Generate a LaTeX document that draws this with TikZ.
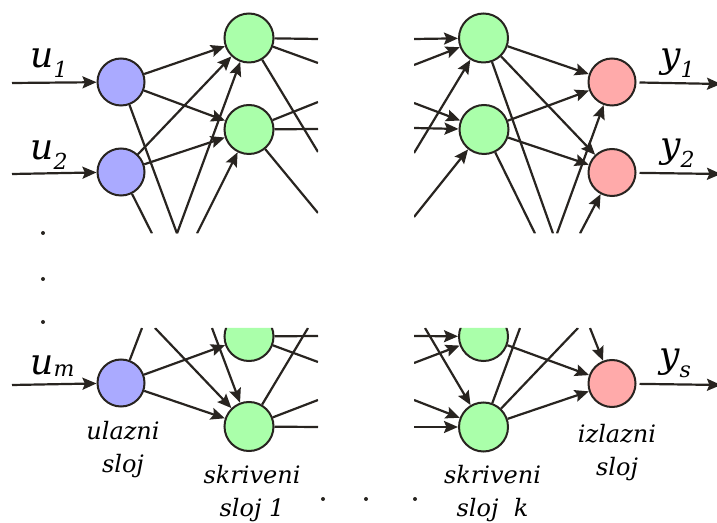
\documentclass[tikz,border=0pt]{standalone}
\usepackage{fontspec}
\setmainfont{DejaVu Serif}
\usepackage{tikz}
\usetikzlibrary{arrows.meta}
\usepackage{xcolor}
\definecolor{nnblue}{RGB}{170,170,255}
\definecolor{nngreen}{RGB}{170,255,170}
\definecolor{nnred}{RGB}{255,170,170}
\definecolor{nnline}{RGB}{40,36,32}
\tikzstyle{neuron} = [circle, minimum size=24.5pt, inner sep=0pt, draw=nnline, line width=1pt]
\tikzstyle{inneuron} = [neuron, minimum size=23.5pt, fill=nnblue]
\tikzstyle{hidneuron} = [neuron, fill=nngreen]
\tikzstyle{outneuron} = [neuron, minimum size=23.5pt, fill=nnred]
\tikzstyle{link} = [line width=1.1pt, color=nnline]
\tikzstyle{arrow} = [link, -{Stealth[length=7pt,width=6pt,inset=1.2pt]}]
\tikzstyle{varlabel} = [inner sep=0pt, anchor=base west, font=\fontsize{18}{20}\selectfont\itshape]
\tikzstyle{layerlabel} = [align=center, inner sep=0pt, font=\fontsize{12}{16.5}\selectfont\itshape]
\newcommand{\nnsub}[2][-5pt]{\raisebox{#1}{\fontsize{11}{12}\selectfont #2}}

\begin{document}
\begin{tikzpicture}[x=0.5pt, y=-0.5pt]
\useasboundingbox (0,0) rectangle (717,523);

\begin{scope}
% four cut-out parts of the network
\clip (0,0) rectangle (318,233.5) (414,0) rectangle (717,233.5)
      (0,328) rectangle (318,523) (414,328) rectangle (717,523);

% Neurons
\node[inneuron] (u1) at (121,82) {};
\node[inneuron] (u2) at (121,172) {};
\node[inneuron] (um) at (121,383) {};
\node[hidneuron] (h1) at (249,38) {};
\node[hidneuron] (h2) at (249,129.5) {};
\node[hidneuron] (h3) at (249,336.5) {};
\node[hidneuron] (h4) at (249,426.5) {};
\node[hidneuron] (k1) at (483.5,38) {};
\node[hidneuron] (k2) at (484,129.5) {};
\node[hidneuron] (k3) at (483.5,336.5) {};
\node[hidneuron] (k4) at (483.5,427) {};
\node[outneuron] (y1) at (612,82) {};
\node[outneuron] (y2) at (612,172.5) {};
\node[outneuron] (ys) at (612,383.5) {};

% Free ends
\coordinate (in1) at (12,83);
\coordinate (in2) at (12,174);
\coordinate (inm) at (12,385);
\coordinate (cutA) at (177,233.5);
\coordinate (cutB) at (197,233.5);
\coordinate (cutC) at (152,233.5);
\coordinate (cutD) at (142,328);
\coordinate (cutE) at (155,328);
\coordinate (cutF) at (212,328);
\coordinate (hA) at (318,39);
\coordinate (hB) at (318,63);
\coordinate (hC) at (318,152);
\coordinate (hD) at (318,102);
\coordinate (hE) at (318,129);
\coordinate (hF) at (318,213);
\coordinate (hG) at (318,336);
\coordinate (hH) at (318,362);
\coordinate (hI) at (308,328);
\coordinate (hJ) at (318,400);
\coordinate (hK) at (318,427);
\coordinate (kA) at (414,39);
\coordinate (kB) at (414,65);
\coordinate (kC) at (414,153);
\coordinate (kD) at (414,103);
\coordinate (kE) at (414,128);
\coordinate (kF) at (414,217);
\coordinate (kG) at (414,336);
\coordinate (kH) at (414,363);
\coordinate (kI) at (425,328);
\coordinate (kJ) at (414,400);
\coordinate (kK) at (414,427);
\coordinate (cutG) at (553,233.5);
\coordinate (cutH) at (535,233.5);
\coordinate (cutI) at (557,233.5);
\coordinate (cutJ) at (580,233.5);
\coordinate (cutK) at (520,328);
\coordinate (cutL) at (578,328);
\coordinate (cutM) at (590,328);
\coordinate (out1) at (721,84);
\coordinate (out2) at (721,174);
\coordinate (outs) at (721,385);

% Input layer
\draw[arrow] (in1) -- (u1);
\draw[arrow] (in2) -- (u2);
\draw[arrow] (inm) -- (um);
\draw[arrow] (u1) -- (h1);
\draw[arrow] (u1) -- (h2);
\draw[arrow] (u2) -- (h1);
\draw[arrow] (u2) -- (h2);
\draw[link] (u1) -- (cutA);
\draw[link] (u2) -- (cutC);
\draw[arrow] (cutA) -- (h1);
\draw[arrow] (cutB) -- (h2);
\draw[link] (um) -- (cutD);
\draw[arrow] (cutE) -- (h4);
\draw[arrow] (cutF) -- (h4);
\draw[arrow] (um) -- (h3);
\draw[arrow] (um) -- (h4);

% Hidden layer 1
\draw[link] (h1) -- (hA);
\draw[link] (h1) -- (hB);
\draw[link] (h1) -- (hC);
\draw[link] (h2) -- (hD);
\draw[link] (h2) -- (hE);
\draw[link] (h2) -- (hF);
\draw[link] (h3) -- (hG);
\draw[link] (h3) -- (hH);
\draw[link] (h4) -- (hI);
\draw[link] (h4) -- (hJ);
\draw[link] (h4) -- (hK);

% Hidden layer k
\draw[arrow] (kA) -- (k1);
\draw[arrow] (kB) -- (k1);
\draw[arrow] (kC) -- (k1);
\draw[arrow] (kD) -- (k2);
\draw[arrow] (kE) -- (k2);
\draw[arrow] (kF) -- (k2);
\draw[arrow] (kG) -- (k3);
\draw[arrow] (kH) -- (k3);
\draw[arrow] (kI) -- (k4);
\draw[arrow] (kJ) -- (k4);
\draw[arrow] (kK) -- (k4);
\draw[arrow] (k1) -- (y1);
\draw[arrow] (k2) -- (y1);
\draw[arrow] (k1) -- (y2);
\draw[arrow] (k2) -- (y2);
\draw[link] (k1) -- (cutG);
\draw[link] (k2) -- (cutH);
\draw[arrow] (cutI) -- (y1);
\draw[arrow] (cutJ) -- (y2);
\draw[arrow] (k3) -- (ys);
\draw[arrow] (k4) -- (ys);
\draw[link] (k4) -- (cutK);
\draw[link] (k4) -- (cutL);
\draw[arrow] (cutM) -- (ys);

% Output layer
\draw[arrow, shorten <=1.5pt] (y1) -- (out1);
\draw[arrow, shorten <=1.5pt] (y2) -- (out2);
\draw[arrow, shorten <=1.5pt] (ys) -- (outs);
\end{scope}

% Dots
\fill[nnline] (43,233) circle (1pt) (43,279) circle (1pt) (43,322) circle (1pt);
\fill[nnline] (323,499) circle (1pt) (366,499) circle (1pt) (415,499) circle (1pt);

% Labels
\node[varlabel] (lu1) at (30,68) {u\nnsub{1}};
\node[varlabel] (lu2) at (30,160) {u\nnsub{2}};
\node[varlabel] (lum) at (30,375) {u\nnsub[-1pt]{m}};
\node[varlabel] (ly1) at (660,68) {y\nnsub{1}};
\node[varlabel] (ly2) at (660,158) {y\nnsub{2}};
\node[varlabel] (lys) at (659,368) {y\nnsub{s}};
\node[layerlabel] (lin) at (123,450) {ulazni\\sloj};
\node[layerlabel] (lh1) at (252,493.5) {skriveni\\sloj 1};
\node[layerlabel] (lhk) at (492.5,493.5) {skriveni\\sloj\ \ k};
\node[layerlabel] (lout) at (617,452.5) {izlazni\\sloj};
\end{tikzpicture}
\end{document}
